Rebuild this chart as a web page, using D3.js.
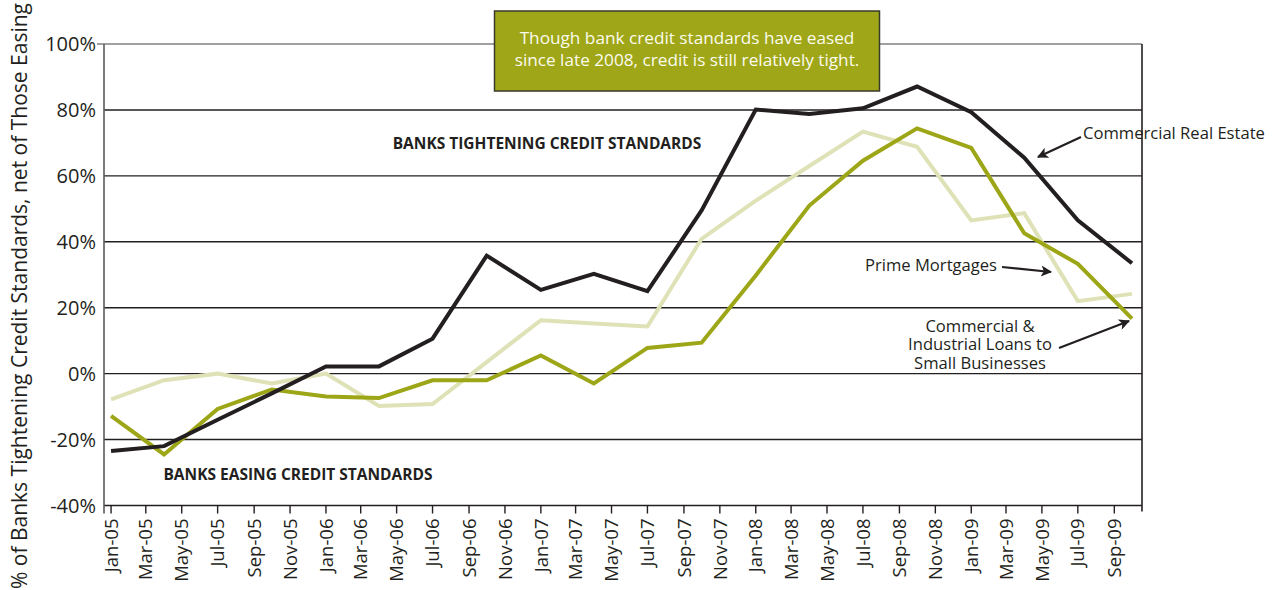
<!DOCTYPE html>
<html>
<head>
<meta charset="utf-8">
<script src="https://cdn.jsdelivr.net/npm/d3@7/dist/d3.min.js"></script>
<style>
  html, body { margin: 0; padding: 0; background: #fff; }
  svg { display: block; font-family: "Open Sans", "Noto Sans", sans-serif; }
</style>
</head>
<body>
<svg id="chart" width="1280" height="590"></svg>
<script>
// Quarterly survey dates
const quarters = ["Jan-05","Apr-05","Jul-05","Oct-05","Jan-06","Apr-06","Jul-06","Oct-06",
                  "Jan-07","Apr-07","Jul-07","Oct-07","Jan-08","Apr-08","Jul-08","Oct-08",
                  "Jan-09","Apr-09","Jul-09","Oct-09"];

// Net % of banks tightening standards
const commercialRealEstate = [-23.5, -22, -14, -6, 2.2, 2.2, 10.6, 35.8, 25.4, 30.3, 25, 49.5,
                              80.1, 78.8, 80.5, 87.1, 79.3, 65.5, 46.5, 33.5];
const primeMortgages       = [-7.8, -2, 0, -3, 0, -9.8, -9.2, 3.5, 16.2, 15.2, 14.3, 40.9,
                              52.5, 63, 73.4, 68.8, 46.5, 48.7, 22, 24.2];
const smallBusinessCI      = [-12.8, -24.5, -10.7, -4.8, -6.9, -7.4, -2, -2, 5.5, -3, 7.8, 9.4,
                              29.8, 51, 64.6, 74.4, 68.5, 42.6, 33.3, 16.7];

// Axis ticks
const yTicks = [-40, -20, 0, 20, 40, 60, 80, 100];
const xTickLabels = ["Jan-05","Mar-05","May-05","Jul-05","Sep-05","Nov-05",
                     "Jan-06","Mar-06","May-06","Jul-06","Sep-06","Nov-06",
                     "Jan-07","Mar-07","May-07","Jul-07","Sep-07","Nov-07",
                     "Jan-08","Mar-08","May-08","Jul-08","Sep-08","Nov-08",
                     "Jan-09","Mar-09","May-09","Jul-09","Sep-09"];

const parse = d3.timeParse("%b-%y");
const ink = "#231f20";

const svg = d3.select("#chart");
const plotLeft = 104, plotRight = 1142, plotTop = 44, plotBottom = 505.5;

const x = d3.scaleTime()
  .domain([new Date(2004, 11, 20), new Date(2009, 9, 18)])
  .range([plotLeft, plotRight]);
const y = d3.scaleLinear().domain([-40, 100]).range([plotBottom, plotTop]);

// Horizontal gridlines
svg.append("g").selectAll("line")
  .data(yTicks.filter(v => v > -40 && v < 100))
  .join("line")
  .attr("x1", plotLeft).attr("x2", plotRight)
  .attr("y1", d => y(d)).attr("y2", d => y(d))
  .attr("stroke", ink).attr("stroke-width", 1.4);

// Top line
svg.append("line")
  .attr("x1", plotLeft - 7).attr("x2", plotRight)
  .attr("y1", y(100)).attr("y2", y(100))
  .attr("stroke", "#808080").attr("stroke-width", 1.6);

// Bottom axis line
svg.append("line")
  .attr("x1", plotLeft).attr("x2", plotRight)
  .attr("y1", y(-40)).attr("y2", y(-40))
  .attr("stroke", ink).attr("stroke-width", 1.6);

// Left axis and right border
svg.append("line")
  .attr("x1", plotLeft).attr("x2", plotLeft)
  .attr("y1", y(100)).attr("y2", plotBottom + 8)
  .attr("stroke", "#5a5a5a").attr("stroke-width", 1.6);
svg.append("line")
  .attr("x1", plotRight).attr("x2", plotRight)
  .attr("y1", y(100)).attr("y2", plotBottom + 6)
  .attr("stroke", ink).attr("stroke-width", 1.6);

// Y tick labels
svg.append("g").selectAll("text")
  .data(yTicks)
  .join("text")
  .attr("x", plotLeft - 8)
  .attr("y", d => y(d))
  .attr("dy", "0.35em")
  .attr("text-anchor", "end")
  .attr("font-size", 20)
  .attr("fill", ink)
  .text(d => d + "%");

// X ticks and labels (first label sits on the axis corner)
const tickX = d => Math.max(x(parse(d)), plotLeft);
const xt = svg.append("g").selectAll("g")
  .data(xTickLabels)
  .join("g")
  .attr("transform", d => `translate(${tickX(d)},${plotBottom})`);
xt.append("line").attr("y1", 0).attr("y2", 8)
  .attr("stroke", ink).attr("stroke-width", 1.4);
xt.append("text")
  .attr("transform", "rotate(-90)")
  .attr("x", -13)
  .attr("dy", "0.36em")
  .attr("text-anchor", "end")
  .attr("font-size", 18.5)
  .attr("fill", ink)
  .text(d => d);

// Y axis title
svg.append("text")
  .attr("transform", "translate(20,296) rotate(-90)")
  .attr("text-anchor", "middle")
  .attr("dy", "0.35em")
  .attr("font-size", 21)
  .attr("fill", ink)
  .text("% of Banks Tightening Credit Standards, net of Those Easing");

// Series lines
const line = d3.line()
  .x((d, i) => x(parse(quarters[i])))
  .y(d => y(d));

const series = [
  { values: primeMortgages, color: "#dfe2b6" },
  { values: smallBusinessCI, color: "#9ca617" },
  { values: commercialRealEstate, color: ink }
];
svg.append("g").selectAll("path")
  .data(series)
  .join("path")
  .attr("d", d => line(d.values))
  .attr("fill", "none")
  .attr("stroke", d => d.color)
  .attr("stroke-width", 4)
  .attr("stroke-linejoin", "miter");

// Region captions
svg.append("text")
  .attr("x", 547).attr("y", 144).attr("dy", "0.35em")
  .attr("text-anchor", "middle")
  .attr("font-size", 15.5).attr("font-weight", 700)
  .attr("fill", ink)
  .text("BANKS TIGHTENING CREDIT STANDARDS");
svg.append("text")
  .attr("x", 298).attr("y", 475).attr("dy", "0.35em")
  .attr("text-anchor", "middle")
  .attr("font-size", 15.5).attr("font-weight", 700)
  .attr("fill", ink)
  .text("BANKS EASING CREDIT STANDARDS");

// Callout box
svg.append("rect")
  .attr("x", 494.5).attr("y", 11).attr("width", 385).attr("height", 80)
  .attr("fill", "#9fa617").attr("stroke", "#3a3a2a").attr("stroke-width", 1.5);
svg.append("text")
  .attr("x", 687).attr("y", 38).attr("dy", "0.35em")
  .attr("text-anchor", "middle").attr("font-size", 17.2)
  .attr("fill", "#fbfbee")
  .text("Though bank credit standards have eased");
svg.append("text")
  .attr("x", 687).attr("y", 60).attr("dy", "0.35em")
  .attr("text-anchor", "middle").attr("font-size", 17.2)
  .attr("fill", "#fbfbee")
  .text("since late 2008, credit is still relatively tight.");

// Series labels with arrows
const defs = svg.append("defs");
defs.append("marker")
  .attr("id", "arrow")
  .attr("viewBox", "0 0 10 10")
  .attr("refX", 9).attr("refY", 5)
  .attr("markerWidth", 6).attr("markerHeight", 5)
  .attr("markerUnits", "strokeWidth")
  .attr("orient", "auto")
  .append("path")
  .attr("d", "M0,0 L10,5 L0,10 L2.5,5 Z")
  .attr("fill", ink);

const arrow = (x1, y1, x2, y2) => svg.append("line")
  .attr("x1", x1).attr("y1", y1).attr("x2", x2).attr("y2", y2)
  .attr("stroke", ink).attr("stroke-width", 2.2)
  .attr("marker-end", "url(#arrow)");

svg.append("text")
  .attr("x", 1083).attr("y", 133).attr("dy", "0.35em")
  .attr("font-size", 16.6).attr("fill", ink)
  .text("Commercial Real Estate");
arrow(1081, 137, 1038, 157);

svg.append("text")
  .attr("x", 865).attr("y", 265).attr("dy", "0.35em")
  .attr("font-size", 16.6).attr("fill", ink)
  .text("Prime Mortgages");
arrow(1002, 267, 1051, 272);

const ciLines = ["Commercial &", "Industrial Loans to", "Small Businesses"];
svg.append("g").selectAll("text")
  .data(ciLines)
  .join("text")
  .attr("x", 980)
  .attr("y", (d, i) => 326 + i * 18.4)
  .attr("dy", "0.35em")
  .attr("text-anchor", "middle")
  .attr("font-size", 16.6).attr("fill", ink)
  .text(d => d);
arrow(1059, 348, 1129, 321);
</script>
</body>
</html>
